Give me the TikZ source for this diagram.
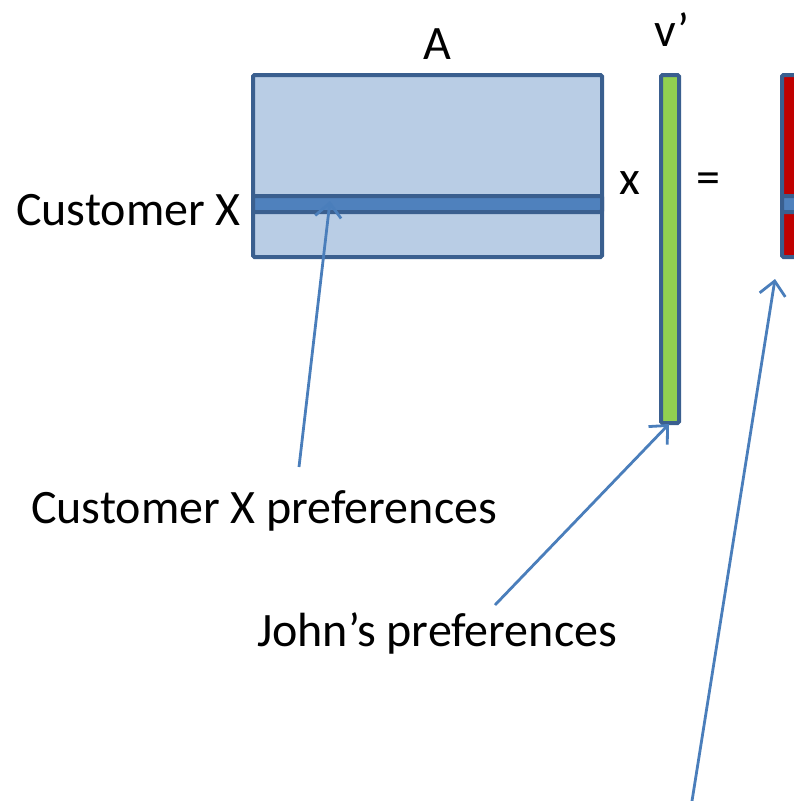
\documentclass[tikz,border=0pt]{standalone}
\usepackage{fontspec}
\setmainfont{Carlito}
\usetikzlibrary{arrows.meta}
\definecolor{edgeblue}{HTML}{3A5F8F}
\definecolor{paleblue}{HTML}{B9CDE5}
\definecolor{midblue}{HTML}{4F81BD}
\definecolor{leafgreen}{HTML}{92D050}
\definecolor{deepred}{HTML}{C00000}
\definecolor{pointer}{HTML}{4A7EBB}
\tikzset{
  x=1pt, y=-1pt,
  box/.style={draw=edgeblue, line width=4pt, rounded corners=1.5pt},
  lbl/.style={font=\fontsize{48}{52}\selectfont, inner sep=0pt},
  ptr/.style={draw=pointer, line width=2.8pt, -{Straight Barb[length=14pt, width=26pt, line width=2.8pt]}},
}
\begin{document}
\begin{tikzpicture}
\useasboundingbox (0,0) rectangle (794,801);
\clip (0,0) rectangle (794,801);
% matrix A with the highlighted customer row
\draw[box, fill=paleblue] (253,75) rectangle (602,257);
\draw[box, fill=midblue] (253,196) rectangle (602,212);
\coordinate (rowA) at (330,201);
% vector v'
\draw[box, fill=leafgreen] (661,75) rectangle (679,423);
\coordinate (vbot) at (669,424);
% result vector
\draw[box, fill=deepred] (782,75) rectangle (830,257);
\draw[box, fill=midblue] (782,196) rectangle (830,212);
\coordinate (resbot) at (775,279);
% labels
\node[lbl] (labA) at (437,44) {A};
\node[lbl] (labV) at (672,30) {v’};
\node[lbl] (times) at (630,183) {x};
\node[lbl] (eq) at (708,183) {=};
\node[lbl, anchor=east] (cust) at (241,210) {Customer X};
\node[lbl] (custpref) at (264,511) {Customer X preferences};
\node[lbl] (johnpref) at (437,633) {John’s preferences};
\coordinate (tail3) at (692,801);
% pointers
\draw[ptr] (299,467) -- (rowA);
\draw[ptr] (495,605) -- (vbot);
\draw[ptr] (tail3) -- (resbot);
\end{tikzpicture}
\end{document}
